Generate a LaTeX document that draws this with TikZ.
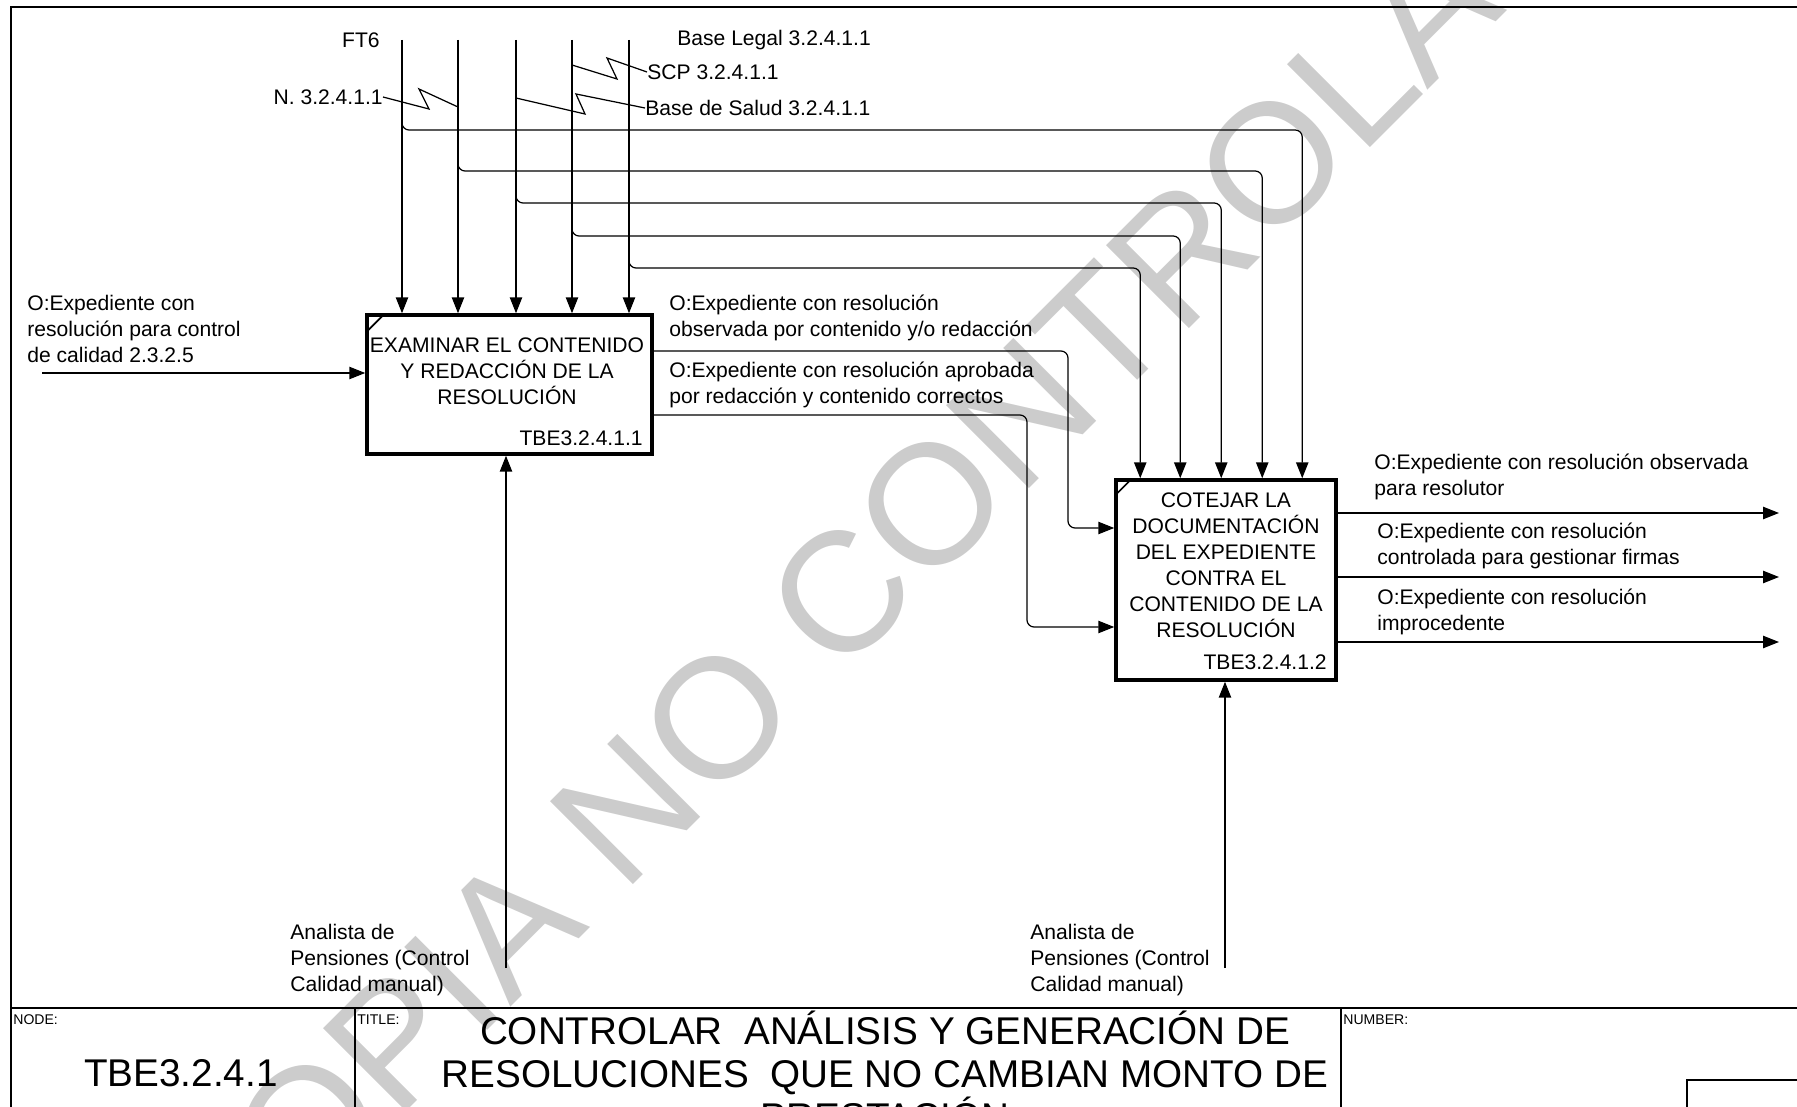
\documentclass[tikz,border=0pt]{standalone}
\usepackage{fontspec}
\setmainfont{Liberation Sans}
\usepackage{tikz}
\usetikzlibrary{positioning, arrows.meta, calc}
\tikzset{
    procbox/.style={
        draw=black,
        line width=2pt,
        inner sep=0pt
    },
    flow/.style={
        line width=0.7pt,
        -{Triangle[length=9pt,width=7pt]}
    },
    tunnel/.style={
        line width=0.7pt,
        rounded corners=4pt,
        -{Triangle[length=9pt,width=7pt]}
    },
    squig/.style={
        line width=0.7pt
    },
    txt/.style={
        inner sep=0pt,
        align=left,
        font=\fontsize{12}{14.8}\selectfont
    },
    boxtxt/.style={
        inner sep=0pt,
        align=center,
        font=\fontsize{12}{14.8}\selectfont
    },
    smalltxt/.style={
        inner sep=0pt,
        font=\fontsize{8}{9}\selectfont
    },
    bigtxt/.style={
        inner sep=0pt,
        align=center,
        font=\fontsize{22}{24.5}\selectfont
    },
    frameline/.style={
        line width=1.2pt
    }
}

\begin{document}
\begin{tikzpicture}[x=0.2mm, y=-0.2mm]
\useasboundingbox (0,0) rectangle (1797,1107);
\clip (0,0) rectangle (1797,1107);

%---------------- Watermark ----------------

\node[text=black!20, inner sep=0pt, font=\fontsize{97}{97}\selectfont, rotate=45] (wmark) at (904,531) {COPIA NO CONTROLADA};

%---------------- Frame ----------------

\draw[frameline] (11,1120) -- (11,7) -- (1810,7);

%---------------- Boxes ----------------

\node[procbox, minimum width=57mm, minimum height=27.8mm] (exam) at (509.5,384.5) {};
\draw[line width=1pt] ([shift={(2,18)}]exam.north west) -- ([shift={(19,1)}]exam.north west);
\node[boxtxt] (examtxt) at (507,371) {EXAMINAR EL CONTENIDO\\Y REDACCIÓN DE LA\\RESOLUCIÓN};
\node[txt, anchor=east] (examid) at (643,438) {TBE3.2.4.1.1};

\node[procbox, minimum width=44mm, minimum height=40mm] (cot) at (1226,580) {};
\draw[line width=1pt] ([shift={(2,16)}]cot.north west) -- ([shift={(17,1)}]cot.north west);
\node[boxtxt] (cottxt) at (1226,565.5) {COTEJAR LA\\DOCUMENTACIÓN\\DEL EXPEDIENTE\\CONTRA EL\\CONTENIDO DE LA\\RESOLUCIÓN};
\node[txt, anchor=east] (cotid) at (1327,662) {TBE3.2.4.1.2};

%---------------- Controls ----------------

\coordinate (t1) at (402,40);
\coordinate (t2) at (458,40);
\coordinate (t3) at (516,40);
\coordinate (t4) at (572,40);
\coordinate (t5) at (629,40);

\coordinate (i1) at ([xshift=37.6mm]cot.north west);
\coordinate (i2) at ([xshift=29.6mm]cot.north west);
\coordinate (i3) at ([xshift=21.4mm]cot.north west);
\coordinate (i4) at ([xshift=13.2mm]cot.north west);
\coordinate (i5) at ([xshift=5.2mm]cot.north west);

\foreach \t in {t1,t2,t3,t4,t5}
    \draw[flow] (\t) -- (\t |- exam.north);

\foreach \t/\y/\i in {t1/130/i1, t2/171/i2, t3/203/i3, t4/236/i4, t5/268/i5}
    \draw[tunnel] (\t) ++(0,\y-50) -- ++(0,10) -| (\i);

\node[txt, anchor=east] (ft) at (380,40) {FT6};
\node[txt, anchor=west] (legal) at (677,40) {Base Legal 3.2.4.1.1};
\node[txt, anchor=west] (scp) at (647,72) {SCP 3.2.4.1.1};
\node[txt, anchor=east] (norma) at (383,97) {N. 3.2.4.1.1};
\node[txt, anchor=west] (salud) at (645,108) {Base de Salud 3.2.4.1.1};

\draw[squig] (norma.east) -- (429,109) -- (419,89) -- (t2 |- 0,107);
\draw[squig] (t4 |- 0,65) -- (617,79) -- (607,58) -- (scp.west);
\draw[squig] (t3 |- 0,98) -- (585,114) -- (576,94) -- (salud.west);

%---------------- Input ----------------

\coordinate (src) at (42,373);
\draw[flow] (src) -- (src -| exam.west);
\node[txt, anchor=west] (srclbl) at (27,329) {O:Expediente con\\resolución para control\\de calidad 2.3.2.5};

%---------------- Between boxes ----------------

\draw[tunnel] ([yshift=6.7mm]exam.east) -- (1068,351) |- ([yshift=10.4mm]cot.west);
\draw[tunnel] ([yshift=-6.1mm]exam.east) -- (1027,415) |- ([yshift=-9.4mm]cot.west);

\node[txt, anchor=west] (obslbl) at (669,318) {O:Expediente con resolución\\observada por contenido y/o redacción};
\node[txt, anchor=west] (aprlbl) at (669,385) {O:Expediente con resolución aprobada\\por redacción y contenido correctos};

%---------------- Outputs ----------------

\coordinate (d1) at (1779,513);
\coordinate (d2) at (1779,577);
\coordinate (d3) at (1779,642);
\foreach \d in {d1,d2,d3}
    \draw[flow] (\d -| cot.east) -- (\d);

\node[txt, anchor=west] (out1) at (1374,476.5) {O:Expediente con resolución observada\\para resolutor};
\node[txt, anchor=west] (out2) at (1377,546) {O:Expediente con resolución\\controlada para gestionar firmas};
\node[txt, anchor=west] (out3) at (1377,611.5) {O:Expediente con resolución\\improcedente};

%---------------- Mechanisms ----------------

\coordinate (m1) at (506,968);
\coordinate (m2) at (1225,968);
\draw[flow] (m1) -- (m1 |- exam.south);
\draw[flow] (m2) -- (m2 |- cot.south);

\node[txt, anchor=west] (mec1) at (290,960) {Analista de\\Pensiones (Control\\Calidad manual)};
\node[txt, anchor=west] (mec2) at (1030,960) {Analista de\\Pensiones (Control\\Calidad manual)};

%---------------- Title block ----------------

\draw[line width=1.5pt] (11,1008) -- (1810,1008);
\draw[line width=0.8pt] (355,1008) -- (355,1120);
\draw[line width=0.8pt] (1341,1008) -- (1341,1120);
\draw[frameline] (1687,1120) -- (1687,1080) -- (1810,1080);

\node[smalltxt, anchor=west] (nodelbl) at (13,1020) {NODE:};
\node[smalltxt, anchor=west] (titlelbl) at (357,1020) {TITLE:};
\node[smalltxt, anchor=west] (numlbl) at (1343,1020) {NUMBER:};

\node[bigtxt] (nodeid) at (181,1073) {TBE3.2.4.1};
\node[bigtxt, anchor=north] (title) at (885,1011) {CONTROLAR\ \ ANÁLISIS Y GENERACIÓN DE\\RESOLUCIONES\ \ QUE NO CAMBIAN MONTO DE\\PRESTACIÓN};

\end{tikzpicture}
\end{document}
